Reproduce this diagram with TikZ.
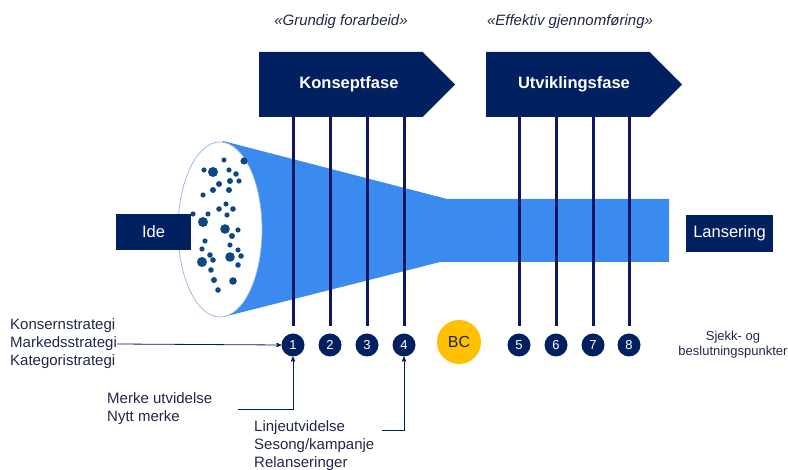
\documentclass[tikz,border=0pt]{standalone}
\usepackage{fontspec}
\setmainfont{Liberation Sans}
\usetikzlibrary{shapes.symbols,arrows,positioning}
\definecolor{navy}{RGB}{0,32,96}
\definecolor{gate}{RGB}{14,22,98}
\definecolor{funnel}{RGB}{59,138,240}
\definecolor{speck}{RGB}{14,72,132}
\definecolor{rim}{RGB}{150,180,225}
\definecolor{textcol}{RGB}{32,40,72}
\definecolor{gold}{RGB}{255,192,0}
\tikzset{phase/.style={signal,signal to=east,signal pointer angle=90,fill=navy,text=white,font=\bfseries\fontsize{16.5}{19}\selectfont,minimum width=196pt,minimum height=65pt,inner sep=0pt,anchor=west},
         check node/.style={circle,fill=navy,text=white,minimum size=23pt,inner sep=0pt,font=\fontsize{13}{15}\selectfont},
         end box/.style={rectangle,fill=navy,text=white,font=\fontsize{16.5}{19}\selectfont,inner sep=0pt},
         side text/.style={align=left,text=textcol,font=\fontsize{15}{18}\selectfont,inner sep=0pt},
         motto/.style={text=textcol,font=\itshape\fontsize{15}{18}\selectfont,inner sep=0pt},
         gate line/.style={draw=gate,line width=3pt},
         feed/.style={draw=navy,line width=0.8pt,-stealth'}
}
\begin{document}
\begin{tikzpicture}[x=1pt,y=-1pt]
\useasboundingbox (0,0) rectangle (788,470);
% funnel and idea pool
\fill[funnel] (223,141) -- (447,199) -- (669,199) -- (669,262) -- (440,262) -- (223,317) -- cycle;
\draw[rim,fill=white,line width=0.7pt] (220,229.5) ellipse [x radius=42pt,y radius=87.5pt];
\foreach \x/\y/\r in {224/160/2.6,244/161/3.6,204/170/2.6,213/172/5,229/170/2.6,236/174/2.8,
    239/181/2.6,230/181/3,219/184/3,213/190/3,229/190/3,203/195/2.6,226/204/2.6,219/209/2.8,
    233/209/2.8,227/215/2.6,208/214/2.6,193/214/2.6,203/222/5,225/229/4.8,238/230/2.6,
    232/236/3,205/241/2.6,230/245/2.6,202/249/2.6,210/255/2.8,238/250/2.6,241/256/2.8,
    230/257/4.8,213/260/2.8,202/262/5,238/265/2.8,211/270/2.8,214/280/3,233/281/3.8,218/290/2.8}
    \fill[speck] (\x,\y) circle (\r pt);
% phases
\node[motto] (m1) at (341,22) {«Grundig forarbeid»};
\node[motto] (m2) at (570,22) {«Effektiv gjennomføring»};
\node[phase] (kf) at (259,84.5) {\hspace*{16pt}Konseptfase};
\node[phase] (uf) at (486,84.5) {\hspace*{12pt}Utviklingsfase};
% start and end
\node[end box,minimum width=75pt,minimum height=36pt] (ide) at (153.5,232) {Ide};
\node[end box,minimum width=87pt,minimum height=37pt] (lans) at (729.5,233.5) {Lansering};
% check points
\foreach \i/\x in {1/293,2/330,3/367,4/404,5/519,6/556,7/593,8/629}
    \node[check node] (c\i) at (\x,345) {\i};
\node[circle,fill=gold,text=textcol,minimum size=44pt,inner sep=0pt,font=\fontsize{16}{19}\selectfont] (bc) at (459,342) {BC};
\foreach \i in {1,...,4}
    \draw[gate line] (c\i |- kf.south) -- ([yshift=7pt]c\i.north);
\foreach \i in {5,...,8}
    \draw[gate line] (c\i |- uf.south) -- ([yshift=7pt]c\i.north);
\node[text=textcol,align=center,inner sep=0pt,font=\fontsize{13}{15}\selectfont] (sjekk) at (733,345) {Sjekk- og\\beslutningspunkter};
% inputs
\node[side text,anchor=west] (strat) at (10,344) {Konsernstrategi\\Markedsstrategi\\Kategoristrategi};
\node[side text,anchor=west] (merke) at (107,409) {Merke utvidelse\\Nytt merke};
\node[side text,anchor=west] (linje) at (254,446) {Linjeutvidelse\\Sesong/kampanje\\Relanseringer};
\coordinate (merkeend) at (238,409);
\coordinate (linjeend) at (382,430);
\draw[feed] (strat.east) -- (c1.west);
\draw[feed] (merkeend) -| (c1.south);
\draw[feed] (linjeend) -| (c4.south);
\end{tikzpicture}
\end{document}
